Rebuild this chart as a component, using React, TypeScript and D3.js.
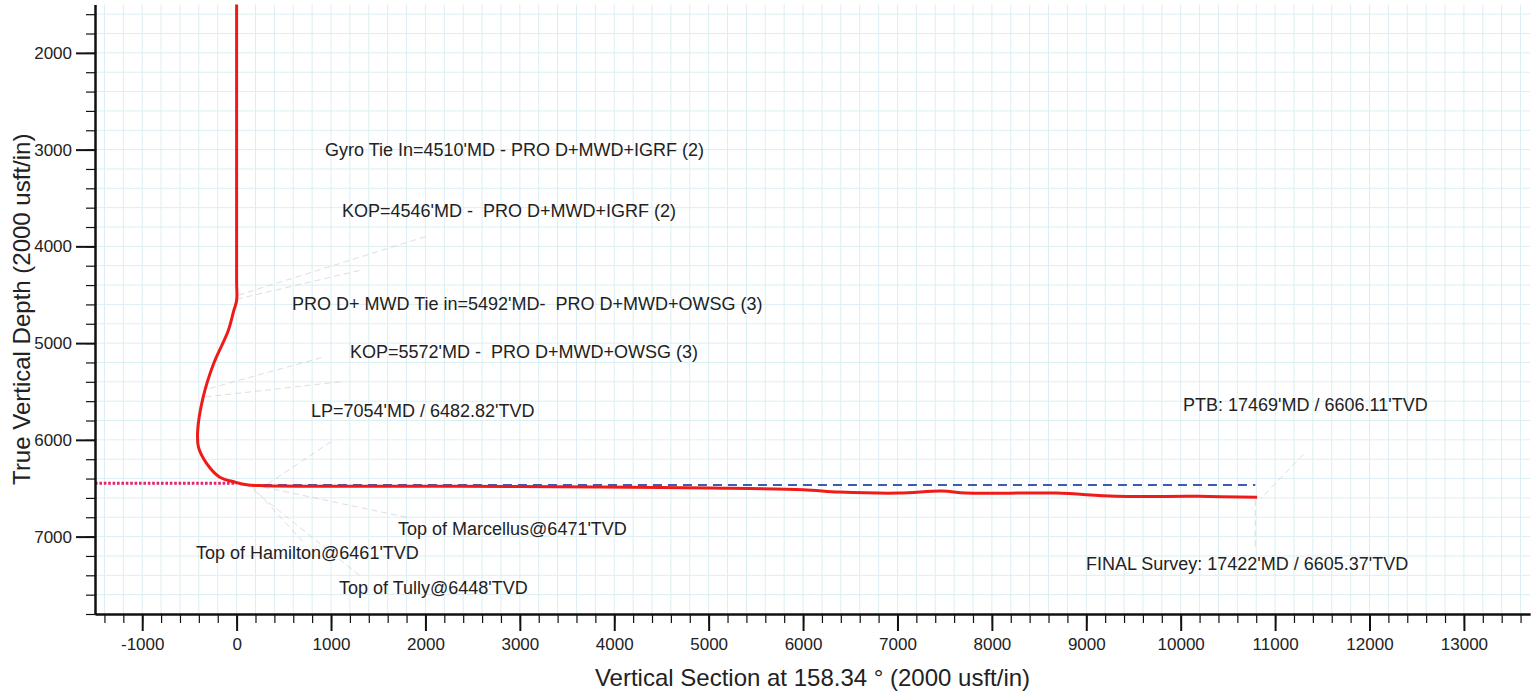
import React, { useEffect, useRef } from 'react'
import * as d3 from 'd3'

const WIDTH = 1537
const HEIGHT = 695
const FONT = '"Liberation Sans", Arial, Helvetica, sans-serif'

const surveyVS = [0, 0, 0, -30, -90, -245, -355, -412, -404, -320, -182, -22, 106, 296, 1000, 2000, 3000, 3841, 5005, 6000, 6381, 7016, 7471, 7725, 8677, 9312, 10190, 10810]
const surveyTVD = [1500, 4351, 4560, 4665, 4875, 5215, 5560, 5900, 6075, 6240, 6383, 6435, 6465, 6474, 6479, 6479, 6482, 6488, 6498, 6515, 6539, 6550, 6528, 6550, 6550, 6582, 6584, 6594]

// planned lateral (blue dashed)
const planVS = [120, 10790]
const planTVD = [6467, 6467]

// target / formation top line (magenta dotted)
const targetVS = [-1500, 0]
const targetTVD = [6448, 6448]

// axis ticks
const xMajorTicks = [-1000, 0, 1000, 2000, 3000, 4000, 5000, 6000, 7000, 8000, 9000, 10000, 11000, 12000, 13000]
const yMajorTicks = [2000, 3000, 4000, 5000, 6000, 7000]

// annotation texts and the survey point each one refers to
const annotationText = [
  "Gyro Tie In=4510'MD - PRO D+MWD+IGRF (2)",
  "KOP=4546'MD -  PRO D+MWD+IGRF (2)",
  "PRO D+ MWD Tie in=5492'MD-  PRO D+MWD+OWSG (3)",
  "KOP=5572'MD -  PRO D+MWD+OWSG (3)",
  "LP=7054'MD / 6482.82'TVD",
  "PTB: 17469'MD / 6606.11'TVD",
  "Top of Marcellus@6471'TVD",
  "Top of Hamilton@6461'TVD",
  "Top of Tully@6448'TVD",
  "FINAL Survey: 17422'MD / 6605.37'TVD",
]
const annotationPointVS = [0, 0, -330, -365, 300, 10850, 200, 150, 100, 10790]
const annotationPointTVD = [4510, 4546, 5480, 5560, 6474, 6606, 6471, 6465, 6458, 6594]

// layout: where each label sits (data space, text start + baseline) and where its leader leaves it
const LABEL_AT: [number, number][] = [
  [936, 3066], [1116, 3696], [587, 4658], [1201, 5154], [788, 5764],
  [10025, 5702], [1710, 6983], [-430, 7231], [1084, 7593], [8996, 7345],
]
const LEADER_FROM: [number, number][] = [
  [2000, 3900], [1300, 4250], [900, 5150], [1100, 5400], [1000, 6020],
  [11300, 6150], [1800, 6800], [700, 7050], [1300, 7400], [10790, 7100],
]

export default function App() {
  const svgRef = useRef<SVGSVGElement>(null)

  useEffect(() => {
    if (!svgRef.current) return
    const svg = d3.select(svgRef.current)
    svg.selectAll('*').remove()

    const x = d3.scaleLinear().domain([-1500, 13700]).range([95, 1530])
    const y = d3.scaleLinear().domain([1500, 7800]).range([4.5, 614])

    // light cyan grid every 200 ft
    const grid = svg.append('g').attr('stroke', '#dbeff2').attr('stroke-width', 1)
    grid.selectAll('.gx')
      .data(d3.range(-1400, 13700, 200))
      .enter().append('line')
      .attr('x1', d => x(d)).attr('x2', d => x(d))
      .attr('y1', y(1500)).attr('y2', y(7800))
    grid.selectAll('.gy')
      .data(d3.range(1600, 7800, 200))
      .enter().append('line')
      .attr('x1', x(-1500)).attr('x2', x(13700))
      .attr('y1', d => y(d)).attr('y2', d => y(d))

    // faint leader lines
    const leaders = svg.append('g')
      .attr('stroke', '#c4c4c4')
      .attr('stroke-width', 1)
      .attr('stroke-dasharray', '6,4')
      .attr('opacity', 0.55)
    annotationText.forEach((_, i) => {
      leaders.append('line')
        .attr('x1', x(LEADER_FROM[i][0])).attr('y1', y(LEADER_FROM[i][1]))
        .attr('x2', x(annotationPointVS[i])).attr('y2', y(annotationPointTVD[i]))
    })

    const line = d3.line<[number, number]>()
      .x(d => x(d[0]))
      .y(d => y(d[1]))

    // target line
    svg.append('path')
      .attr('d', line(targetVS.map((v, i) => [v, targetTVD[i]])))
      .attr('fill', 'none')
      .attr('stroke', '#e2246f')
      .attr('stroke-width', 3)
      .attr('stroke-dasharray', '2.6,1.8')

    // plan
    svg.append('path')
      .attr('d', line(planVS.map((v, i) => [v, planTVD[i]])))
      .attr('fill', 'none')
      .attr('stroke', '#3b5cb5')
      .attr('stroke-width', 2)
      .attr('stroke-dasharray', '9,6')

    // actual wellbore
    svg.append('path')
      .attr('d', line.curve(d3.curveCatmullRom.alpha(0.5))(surveyVS.map((v, i) => [v, surveyTVD[i]])))
      .attr('fill', 'none')
      .attr('stroke', '#ef1b1b')
      .attr('stroke-width', 3)
      .attr('stroke-linejoin', 'round')

    // annotation labels
    svg.append('g')
      .selectAll('text')
      .data(annotationText)
      .enter().append('text')
      .attr('x', (d, i) => x(LABEL_AT[i][0]))
      .attr('y', (d, i) => y(LABEL_AT[i][1]))
      .style('font-family', FONT)
      .style('font-size', '18px')
      .style('fill', '#222')
      .style('white-space', 'pre')
      .text(d => d)

    // axes
    const styleAxis = (g: d3.Selection<SVGGElement, unknown, null, undefined>, major: boolean) => {
      g.select('.domain').attr('stroke', '#111').attr('stroke-width', 2)
      g.selectAll('.tick line').attr('stroke', '#111').attr('stroke-width', major ? 2 : 1.2)
      g.selectAll('.tick text')
        .style('font-family', FONT)
        .style('font-size', '17px')
        .style('fill', '#222')
    }

    svg.append('g')
      .attr('transform', `translate(${x(-1500)},0)`)
      .call(d3.axisLeft(y).tickValues(d3.range(1600, 7801, 200)).tickSize(9).tickSizeOuter(0).tickFormat(() => ''))
      .call(g => styleAxis(g, false))
    svg.append('g')
      .attr('transform', `translate(${x(-1500)},0)`)
      .call(d3.axisLeft(y).tickValues(yMajorTicks).tickSize(19).tickSizeOuter(0).tickPadding(4).tickFormat(d => String(d)))
      .call(g => styleAxis(g, true))

    svg.append('g')
      .attr('transform', `translate(0,${y(7800)})`)
      .call(d3.axisBottom(x).tickValues(d3.range(-1400, 13700, 200)).tickSize(9).tickSizeOuter(0).tickFormat(() => ''))
      .call(g => styleAxis(g, false))
    svg.append('g')
      .attr('transform', `translate(0,${y(7800)})`)
      .call(d3.axisBottom(x).tickValues(xMajorTicks).tickSize(17).tickSizeOuter(0).tickPadding(7).tickFormat(d => String(d)))
      .call(g => styleAxis(g, true))

    // axis titles
    svg.append('text')
      .attr('transform', `translate(30,${(y(1500) + y(7800)) / 2}) rotate(-90)`)
      .style('text-anchor', 'middle')
      .style('font-family', FONT)
      .style('font-size', '24px')
      .style('fill', '#222')
      .text('True Vertical Depth (2000 usft/in)')

    svg.append('text')
      .attr('x', (x(-1500) + x(13700)) / 2)
      .attr('y', 686)
      .style('text-anchor', 'middle')
      .style('font-family', FONT)
      .style('font-size', '24px')
      .style('fill', '#222')
      .text('Vertical Section at 158.34 ° (2000 usft/in)')
  }, [])

  return (
    <svg
      ref={svgRef}
      width={WIDTH}
      height={HEIGHT}
      style={{ position: 'absolute', left: 0, top: 0, background: '#fff', display: 'block' }}
    />
  )
}
